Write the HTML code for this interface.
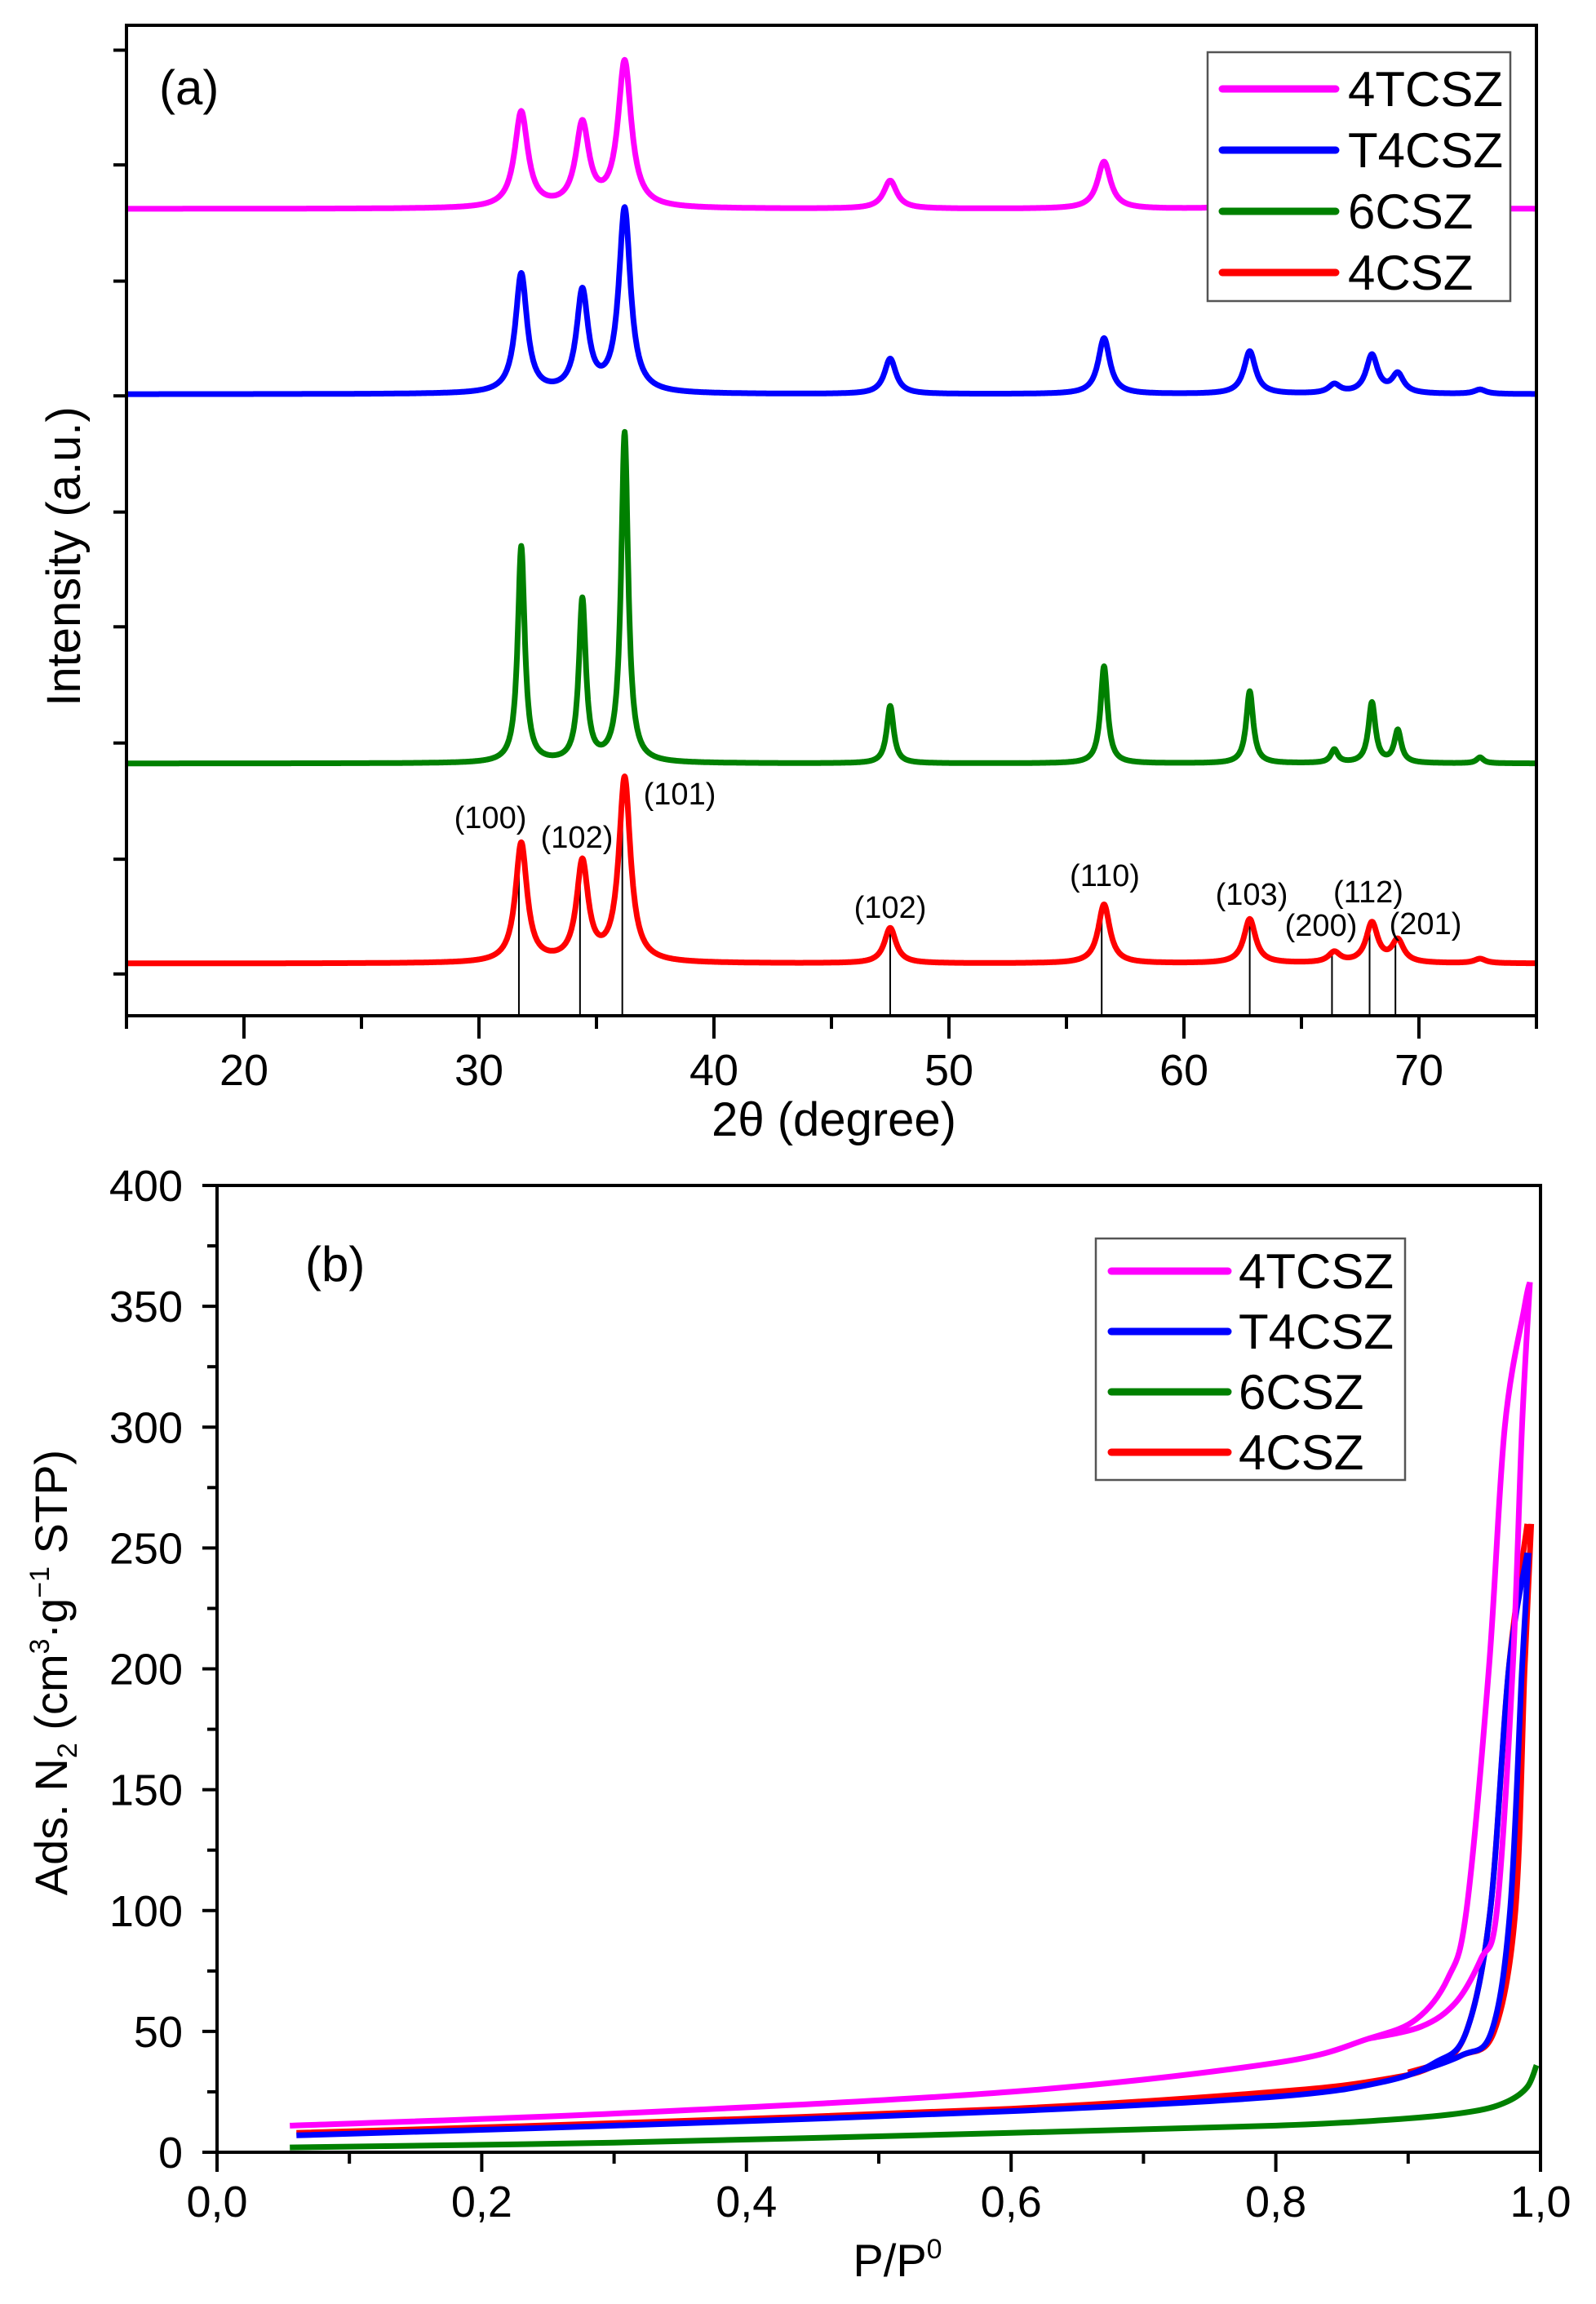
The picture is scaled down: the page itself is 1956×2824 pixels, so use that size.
<!DOCTYPE html>
<html><head><meta charset="utf-8">
<style>html,body{margin:0;padding:0;background:#fff}svg{display:block}text{font-family:"Liberation Sans",Arial,sans-serif}</style>
</head><body>
<svg id="s" xmlns="http://www.w3.org/2000/svg" width="1956" height="2824" viewBox="0 0 1956 2824">
<rect width="1956" height="2824" fill="#fff"/>
<g id="a"></g><g id="b"></g>
</svg>
<script>
const NS="http://www.w3.org/2000/svg",S=1.803;
function el(p,t,a,txt){const e=document.createElementNS(NS,t);for(const k in a)e.setAttribute(k,a[k]);if(txt!=null)e.textContent=txt;p.appendChild(e);return e;}
const A=document.getElementById('a'),B=document.getElementById('b');
// ---- panel (a)
const L=155,R=1883,T=31,BOT=1245;
const X=d=>L+(d-15)*(R-L)/60;
const ser=[
 {c:'#ff00ff',base:142,w:0.34,p:[[31.8,77],[34.4,86],[36.2,43],[47.5,123],[56.6,110],[62.8,125],[68,128],[69.1,136]]},
 {c:'#0000ff',base:268,w:0.3,p:[[31.8,187],[34.4,200],[36.2,143],[47.5,244],[56.6,230],[62.8,239],[66.4,262],[68,242],[69.1,255],[72.6,265]]},
 {c:'#008000',base:519,w:0.18,p:[[31.8,372],[34.4,409],[36.2,295],[47.5,480],[56.6,453],[62.8,470],[66.4,510],[68,478],[69.1,497],[72.6,515]]},
 {c:'#ff0000',base:655,w:0.3,p:[[31.8,574],[34.4,588],[36.2,530],[47.5,631],[56.6,615],[62.8,625],[66.4,648],[68,628],[69.1,640],[72.6,652]]}
];
[31.7,34.3,36.1,47.5,56.5,62.8,66.3,67.9,69.0].forEach((d,i)=>{
 const tops=[575,589,531,632,616,626,649,629,641];
 el(A,'line',{x1:X(d),x2:X(d),y1:BOT,y2:tops[i]*S,stroke:'#000','stroke-width':2});
});
ser.forEach(s=>{
 let pts=[];
 for(let d=15;d<=75.001;d+=0.02){
  let y=0;s.p.forEach(([c,top])=>{const h=(s.base-top)*S;y+=h*s.w*s.w/((d-c)*(d-c)+s.w*s.w);});
  pts.push(X(d).toFixed(1)+','+(s.base*S-y).toFixed(1));
 }
 el(A,'polyline',{points:pts.join(' '),fill:'none',stroke:s.c,'stroke-width':7,'stroke-linejoin':'round'});
});
el(A,'rect',{x:L,y:T,width:R-L,height:BOT-T,fill:'none',stroke:'#000','stroke-width':4});
for(let d=15;d<=75;d+=5){const mj=d%10==0;el(A,'line',{x1:X(d),x2:X(d),y1:BOT,y2:BOT+(mj?28:16),stroke:'#000','stroke-width':4});
 if(mj&&d<75)el(A,'text',{x:X(d),y:1330,'font-size':54,'text-anchor':'middle'},d);}
[33,111,190,268,347,425,504,583,661].forEach(t=>el(A,'line',{x1:L-16,x2:L,y1:t*S+2,y2:t*S+2,stroke:'#000','stroke-width':4}));
el(A,'text',{x:1022,y:1392,'font-size':58,'text-anchor':'middle'},'2θ (degree)');
el(A,'text',{x:0,y:0,'font-size':58,'text-anchor':'middle',transform:'translate(98,682) rotate(-90)'},'Intensity (a.u.)');
el(A,'text',{x:195,y:128,'font-size':60},'(a)');
[['(100)',601,1002],['(102)',707,1026],['(101)',833,973],['(102)',1091,1112],['(110)',1354,1073],['(103)',1534,1096],['(200)',1619,1134],['(112)',1677,1093],['(201)',1747,1132]].forEach(([t,x,y])=>el(A,'text',{x:x,y:y+13,'font-size':38,'text-anchor':'middle'},t));
function legend(P,x,y,w,h,lx1,lx2,tx,ys,fs){
 el(P,'rect',{x:x,y:y,width:w,height:h,fill:'#fff',stroke:'#555','stroke-width':2.5});
 const nm=['4TCSZ','T4CSZ','6CSZ','4CSZ'],cl=['#ff00ff','#0000ff','#008000','#ff0000'];
 ys.forEach((yy,i)=>{el(P,'line',{x1:lx1,x2:lx2,y1:yy,y2:yy,stroke:cl[i],'stroke-width':9,'stroke-linecap':'round'});el(P,'text',{x:tx,y:yy+21,'font-size':fs},nm[i]);});
}
legend(A,1480,64,371,305,1498,1637,1652,[109,184,259,334],60);
// ---- panel (b)
const bl=266,br=1888,bt=1453,bb=2638;
const PX=p=>bl+p*(br-bl),PY=v=>bb-v*(bb-bt)/400;
function curve(ctrl,c){
 const P=ctrl.map(([p,v])=>[PX(p),PY(v)]);
 let d='M'+P[0][0].toFixed(1)+','+P[0][1].toFixed(1);
 for(let i=0;i<P.length-1;i++){
  const p0=P[Math.max(0,i-1)],p1=P[i],p2=P[i+1],p3=P[Math.min(P.length-1,i+2)];
  const c1=[p1[0]+(p2[0]-p0[0])/6,p1[1]+(p2[1]-p0[1])/6],c2=[p2[0]-(p3[0]-p1[0])/6,p2[1]-(p3[1]-p1[1])/6];
  d+=' C'+c1.map(v=>v.toFixed(1))+' '+c2.map(v=>v.toFixed(1))+' '+p2.map(v=>v.toFixed(1));
 }
 el(B,'path',{d:d,fill:'none',stroke:c,'stroke-width':7,'stroke-linejoin':'round'});
}
curve([[0.055,2],[0.3,4],[0.6,8],[0.8,11],[0.9,14],[0.95,17],[0.975,21],[0.99,27],[0.997,36]],'#008000');
curve([[0.06,8],[0.3,12],[0.6,18],[0.8,25],[0.88,30],[0.92,36],[0.944,50],[0.962,100],[0.976,200],[0.99,260]],'#ff0000');
curve([[0.9,33],[0.94,40],[0.965,50],[0.981,100],[0.988,200],[0.993,260]],'#ff0000');
curve([[0.06,7],[0.3,11],[0.6,17],[0.8,23],[0.88,29],[0.92,37],[0.944,50],[0.962,100],[0.976,200],[0.99,248]],'#0000ff');
curve([[0.9,32],[0.94,40],[0.963,50],[0.977,100],[0.986,200],[0.991,248]],'#0000ff');
curve([[0.055,11],[0.3,16],[0.6,25],[0.8,37],[0.87,47],[0.906,55],[0.93,72],[0.944,100],[0.961,200],[0.973,300],[0.988,350],[0.992,360]],'#ff00ff');
curve([[0.87,47],[0.91,52],[0.936,62],[0.955,80],[0.967,100],[0.979,200],[0.986,300],[0.992,360]],'#ff00ff');
el(B,'rect',{x:bl,y:bt,width:br-bl,height:bb-bt,fill:'none',stroke:'#000','stroke-width':4});
for(let v=0;v<=400;v+=25){const mj=v%50==0;el(B,'line',{x1:bl-(mj?18:12),x2:bl,y1:PY(v),y2:PY(v),stroke:'#000','stroke-width':4});
 if(mj)el(B,'text',{x:224,y:PY(v)+19,'font-size':54,'text-anchor':'end'},v);}
for(let i=0;i<=10;i++){const p=i/10,mj=i%2==0;el(B,'line',{x1:PX(p),x2:PX(p),y1:bb,y2:bb+(mj?24:14),stroke:'#000','stroke-width':4});
 if(mj)el(B,'text',{x:PX(p),y:2717,'font-size':54,'text-anchor':'middle'},p.toFixed(1).replace('.',','));}
const xl=el(B,'text',{x:1100,y:2790,'font-size':56,'text-anchor':'middle'},'P/P');el(xl,'tspan',{dy:-22,'font-size':34},'0');
const yl=el(B,'text',{x:0,y:0,'font-size':56,'text-anchor':'middle',transform:'translate(82,2050) rotate(-90)'},'Ads. N');
el(yl,'tspan',{dy:12,'font-size':34},'2');el(yl,'tspan',{dy:-12},' (cm');el(yl,'tspan',{dy:-22,'font-size':34},'3');
el(yl,'tspan',{dy:22},'·g');el(yl,'tspan',{dy:-22,'font-size':34},'−1');el(yl,'tspan',{dy:22},' STP)');
el(B,'text',{x:374,y:1570,'font-size':60},'(b)');
legend(B,1343,1518,379,296,1362,1505,1518,[1558,1632,1706,1780],60);
</script>
</body></html>
